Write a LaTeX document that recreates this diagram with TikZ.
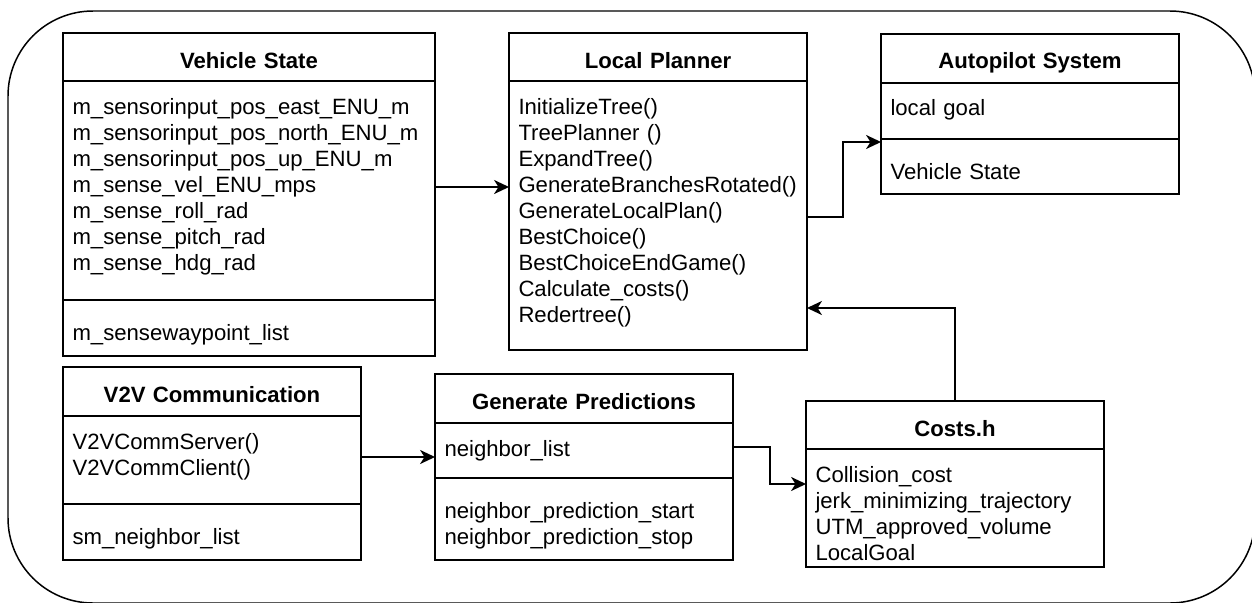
\documentclass[tikz,border=0pt]{standalone}
\usepackage{fontspec}
\usepackage{tikz}
\usetikzlibrary{arrows.meta,positioning,calc}
\newfontfamily\umlfont{Liberation Sans}[HyphenChar=None]
\tikzset{
	classhead/.style={draw, line width=0.85pt, outer sep=0pt, inner ysep=0pt,
		inner xsep=0.19cm, text width=5.58cm, align=center, anchor=north west,
		font=\umlfont\fontsize{12.6pt}{14.8pt}\selectfont\bfseries, text height=0.70cm},
	members/.style={draw, line width=0.85pt, outer sep=0pt, inner ysep=0pt,
		inner xsep=0.19cm, text width=5.58cm, align=left,
		font=\umlfont\fontsize{12.6pt}{14.8pt}\selectfont, text height=0.66cm},
	moremembers/.style={members, text height=0.81cm},
	arrow/.style={-{Stealth[length=8.5pt, width=8pt, inset=2.5pt]}, line width=0.85pt}
}

\begin{document}
\begin{tikzpicture}[
		node distance=0pt,
		frame/.style={draw, line width=0.85pt, rounded corners=1.7cm,
			anchor=north west, outer sep=0pt},
		]
		
		\fill[white, use as bounding box] (0,0) rectangle (25.04,-12.04);
		
		%% -- Outer frame (runs past the right and bottom edge)
		\node[frame, minimum width=24.94cm, minimum height=11.84cm] (system) at (0.16,-0.22) {};
		
		%% -- Vehicle State (top left)
		\node[classhead, text width=7.06cm, text depth=0.26cm] (vs) at (1.26,-0.66) {Vehicle State};
		\node[members, text width=7.06cm, text depth=3.72cm, below=of vs] (vsattr)
		{
			m\_sensorinput\_pos\_east\_ENU\_m\\
			m\_sensorinput\_pos\_north\_ENU\_m\\
			m\_sensorinput\_pos\_up\_ENU\_m\\
			m\_sense\_vel\_ENU\_mps\\
			m\_sense\_roll\_rad\\
			m\_sense\_pitch\_rad\\
			m\_sense\_hdg\_rad
		};
		\node[moremembers, text width=7.06cm, text depth=0.31cm, below=of vsattr] (vsops)
		{m\_sensewaypoint\_list};
		
		%% -- Local Planner (top centre)
		\node[classhead, text depth=0.26cm] (lp) at (10.18,-0.66) {Local Planner};
		\node[members, text depth=4.72cm, below=of lp] (lpops)
		{
			InitializeTree()\\
			TreePlanner ()\\
			ExpandTree()\\
			GenerateBranchesRotated()\\
			GenerateLocalPlan()\\
			BestChoice()\\
			BestChoiceEndGame()\\
			Calculate\_costs()\\
			Redertree()
		};
		
		%% -- Autopilot System (top right)
		\node[classhead, text depth=0.28cm] (ap) at (17.62,-0.68) {Autopilot System};
		\node[members, text depth=0.46cm, below=of ap] (apgoal) {local goal};
		\node[moremembers, text depth=0.29cm, below=of apgoal] (apstate) {Vehicle State};
		
		%% -- V2V Communication (bottom left)
		\node[classhead, text depth=0.28cm] (v2v) at (1.26,-7.34) {V2V Communication};
		\node[members, text depth=1.10cm, below=of v2v] (v2vops)
		{
			V2VCommServer()\\
			V2VCommClient()
		};
		\node[moremembers, text depth=0.31cm, below=of v2vops] (v2vlist) {sm\_neighbor\_list};
		
		%% -- Generate Predictions (bottom centre)
		\node[classhead, text depth=0.28cm] (pred) at (8.70,-7.48) {Generate Predictions};
		\node[members, text depth=0.44cm, below=of pred] (predlist) {neighbor\_list};
		\node[moremembers, text depth=0.83cm, below=of predlist] (predops)
		{
			neighbor\_prediction\_start\\
			neighbor\_prediction\_stop
		};
		
		%% -- Costs.h (bottom right)
		\node[classhead, text depth=0.26cm] (costs) at (16.12,-8.02) {Costs.h};
		\node[members, text depth=1.70cm, below=of costs] (costsattr)
		{
			Collision\_cost\\
			jerk\_minimizing\_trajectory\\
			UTM\_approved\_volume\\
			LocalGoal
		};
		
		%% -- Connectors
		\coordinate (vsout) at ([yshift=0.07cm]vsattr.east);
		\draw[arrow] (vsout) -- (vsout -| lpops.west);
		\draw[arrow] ([yshift=-0.03cm]lpops.east) -- ++(0.72cm,0) |- ([yshift=-0.06cm]apgoal.south west);
		\draw[arrow] (costs.north) |- ([yshift=0.84cm]lpops.south east);
		\coordinate (v2vout) at ([yshift=0.06cm]v2vops.east);
		\draw[arrow] (v2vout) -- (v2vout -| predlist.west);
		\draw[arrow] ([yshift=0.07cm]predlist.east) -- ++(0.74cm,0) |- ([yshift=-0.70cm]costsattr.north west);
		
	\end{tikzpicture}
\end{document}
